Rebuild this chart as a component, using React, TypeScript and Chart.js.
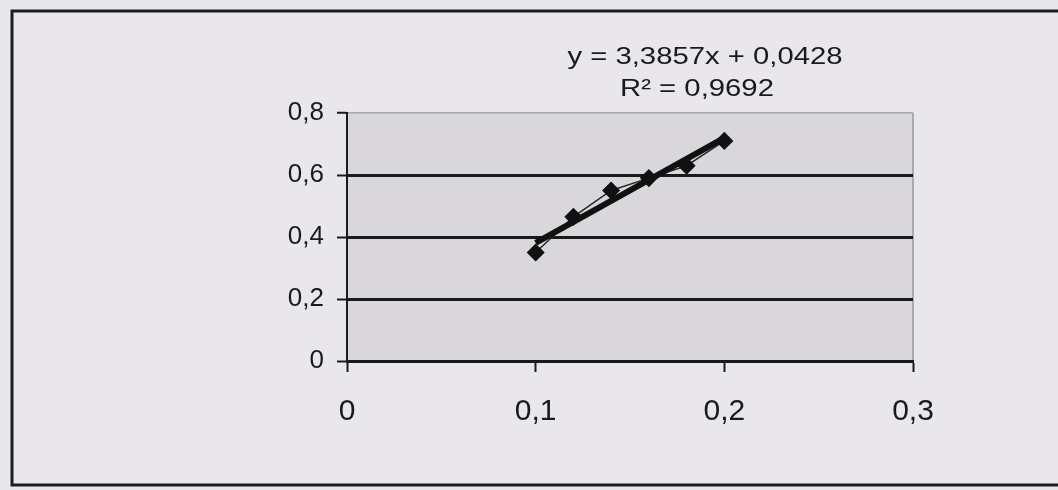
import React, { useEffect, useRef } from "react";
import { Chart, registerables } from "chart.js";

Chart.register(...registerables);

const xValues = [0.1, 0.12, 0.14, 0.16, 0.18, 0.2];
const yValues = [0.35, 0.465, 0.55, 0.59, 0.63, 0.71];
const trendSlope = 3.3857;
const trendIntercept = 0.0428;
const trendRange = [0.1, 0.2];
const equationText = "y = 3,3857x + 0,0428";
const r2Text = "R² = 0,9692";
const yTicks = [0, 0.2, 0.4, 0.6, 0.8];
const xTicks = [0, 0.1, 0.2, 0.3];

const fmt = (v: number) => String(Number(v.toFixed(2))).replace(".", ",");

const decorPlugin = {
  id: "decor",
  beforeDraw(chart: any) {
    const { ctx, chartArea } = chart;
    ctx.save();
    ctx.fillStyle = "#e9e7eb";
    ctx.fillRect(0, 0, chart.width, chart.height);
    ctx.fillStyle = "#d9d7db";
    ctx.fillRect(chartArea.left, chartArea.top, chartArea.right - chartArea.left, chartArea.bottom - chartArea.top);
    ctx.strokeStyle = "#9a9a9a";
    ctx.lineWidth = 1.5;
    ctx.beginPath();
    ctx.moveTo(chartArea.right, chartArea.top);
    ctx.lineTo(chartArea.right, chartArea.bottom);
    ctx.stroke();
    ctx.strokeStyle = "#1c1c1c";
    ctx.lineWidth = 3;
    ctx.beginPath();
    ctx.moveTo(1058, 11);
    ctx.lineTo(12, 11);
    ctx.lineTo(12, 485);
    ctx.lineTo(1058, 485);
    ctx.stroke();
    ctx.restore();
  },
  afterDraw(chart: any) {
    const { ctx } = chart;
    const lines: [string, number, number][] = [
      [equationText, 705, 57],
      [r2Text, 697, 89],
    ];
    lines.forEach(([t, x, y]) => {
      ctx.save();
      ctx.fillStyle = "#1a1a1a";
      ctx.textAlign = "center";
      ctx.textBaseline = "middle";
      ctx.font = "24px 'Liberation Sans', Arial, sans-serif";
      ctx.translate(x, y);
      ctx.scale(1.22, 1);
      ctx.fillText(t, 0, 0);
      ctx.restore();
    });
  },
};

export default function App() {
  const ref = useRef<HTMLCanvasElement>(null);
  useEffect(() => {
    if (!ref.current) return;
    const scatter = xValues.map((x, i) => ({ x, y: yValues[i] }));
    const trend = trendRange.map((x) => ({ x, y: trendSlope * x + trendIntercept }));
    const chart = new Chart(ref.current, {
      type: "scatter",
      data: {
        datasets: [
          {
            label: "trend",
            data: trend,
            showLine: true,
            borderColor: "#111",
            borderWidth: 6,
            pointRadius: 0,
            order: 0,
          },
          {
            label: "data",
            data: scatter,
            showLine: true,
            borderColor: "#2a2a2a",
            borderWidth: 1.5,
            backgroundColor: "#111",
            pointBackgroundColor: "#111",
            pointBorderColor: "#111",
            pointStyle: "rectRot",
            pointRadius: 8,
            order: 1,
          },
        ],
      },
      options: {
        animation: false,
        responsive: false,
        devicePixelRatio: 1,
        layout: { padding: { left: 0, right: 145, top: 113, bottom: 0 } },
        plugins: { legend: { display: false }, tooltip: { enabled: false } },
        scales: {
          x: {
            type: "linear",
            min: 0,
            max: 0.3,
            afterFit: (s: any) => {
              s.height = 129;
            },
            afterBuildTicks: (s: any) => {
              s.ticks = xTicks.map((v) => ({ value: v }));
            },
            grid: {
              drawOnChartArea: false,
              drawTicks: true,
              tickLength: 11,
              tickWidth: 2,
              tickColor: "#1a1a1a",
            },
            border: { display: true, color: "#1a1a1a", width: 3 },
            ticks: {
              color: "#1a1a1a",
              padding: 22,
              font: { family: "'Liberation Sans', Arial, sans-serif", size: 30 },
              callback: (v: any) => fmt(Number(v)),
            },
          },
          y: {
            type: "linear",
            min: 0,
            max: 0.8,
            afterFit: (s: any) => {
              s.width = 347;
            },
            afterBuildTicks: (s: any) => {
              s.ticks = yTicks.map((v) => ({ value: v }));
            },
            grid: {
              drawTicks: true,
              tickLength: 10,
              color: (c: any) => (c.tick && c.tick.value >= 0.8 ? "#a8a8a8" : "#1a1a1a"),
              lineWidth: (c: any) => (c.tick && c.tick.value >= 0.8 ? 1.5 : 3),
              tickColor: "#1a1a1a",
              tickWidth: 2,
            },
            border: { display: true, color: "#1a1a1a", width: 2 },
            ticks: {
              color: "#1a1a1a",
              padding: 13,
              font: { family: "'Liberation Sans', Arial, sans-serif", size: 26 },
              callback: (v: any) => fmt(Number(v)),
            },
          },
        },
      },
      plugins: [decorPlugin],
    });
    return () => chart.destroy();
  }, []);
  return (
    <div style={{ position: "absolute", left: 0, top: 0, width: 1058, height: 490 }}>
      <canvas ref={ref} width={1058} height={490} style={{ width: 1058, height: 490 }} />
    </div>
  );
}
